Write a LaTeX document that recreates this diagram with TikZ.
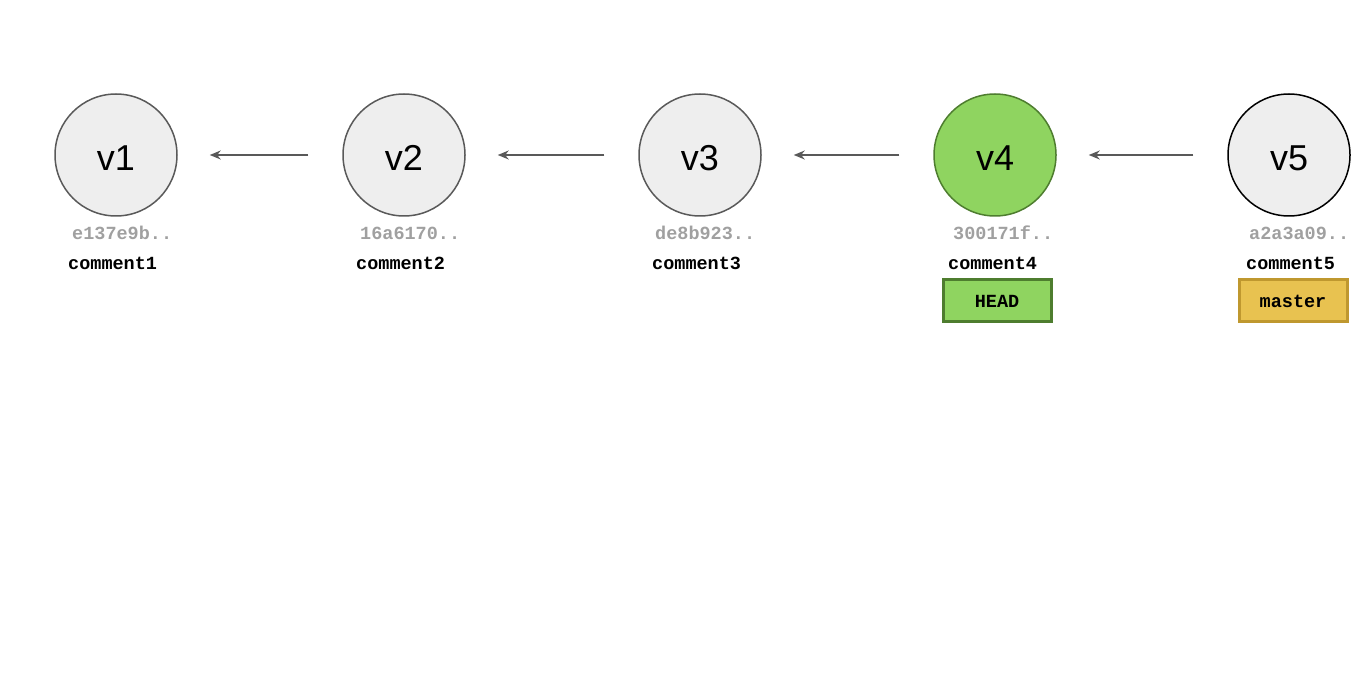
\documentclass[tikz,border=0pt]{standalone}
\usepackage{fontspec}
\setmainfont{Liberation Sans}
\newfontfamily\hashfont{Liberation Mono}
\usepackage{tikz}
\usetikzlibrary{calc}
\usetikzlibrary{arrows.meta}
\definecolor{commitfill}{HTML}{EEEEEE}
\definecolor{commitline}{HTML}{595959}
\definecolor{headfill}{HTML}{8FD460}
\definecolor{headline}{HTML}{4E7D2F}
\definecolor{masterfill}{HTML}{E8C250}
\definecolor{masterline}{HTML}{BF982F}
\definecolor{hashgray}{HTML}{A0A0A0}
\definecolor{arrowgray}{HTML}{595959}
\tikzset{
	commitstyle/.style={circle,draw=commitline,fill=commitfill,line width=1.5,minimum size=122,inner sep=0,text height=32pt,text depth=0pt,font=\fontsize{36}{40}\selectfont},
	hashstyle/.style={anchor=west,inner sep=0,text=hashgray,font=\hashfont\bfseries\fontsize{18.5}{20}\selectfont},
	msgstyle/.style={anchor=west,inner sep=0,font=\hashfont\bfseries\fontsize{18.5}{20}\selectfont},
	refstyle/.style={rectangle,line width=3,minimum width=108,minimum height=42,inner sep=0,font=\hashfont\bfseries\fontsize{18.5}{20}\selectfont},
	linkstyle/.style={-{Stealth[length=11,width=9]},draw=arrowgray,line width=1.4,shorten >=32,shorten <=34}
}
\begin{document}
\begin{tikzpicture}[x=1pt,y=-1pt]
	\useasboundingbox (0,0) rectangle (1362,692);
	\node[commitstyle] (c1) at (116,155) {v1};
	\node[commitstyle] (c2) at (404,155) {v2};
	\node[commitstyle] (c3) at (700,155) {v3};
	\node[commitstyle,draw=headline,fill=headfill] (c4) at (995,155) {v4};
	\node[commitstyle,draw=black] (c5) at (1289,155) {v5};
	\draw[linkstyle] (c2.west)--(c1.east);
	\draw[linkstyle] (c3.west)--(c2.east);
	\draw[linkstyle] (c4.west)--(c3.east);
	\draw[linkstyle] (c5.west)--(c4.east);
	\node[hashstyle] (h1) at (72,233) {e137e9b..};
	\node[hashstyle] (h2) at (360,233) {16a6170..};
	\node[hashstyle] (h3) at (655,233) {de8b923..};
	\node[hashstyle] (h4) at (953,233) {300171f..};
	\node[hashstyle] (h5) at (1249,233) {a2a3a09..};
	\node[msgstyle] (m1) at (68,263) {comment1};
	\node[msgstyle] (m2) at (356,263) {comment2};
	\node[msgstyle] (m3) at (652,263) {comment3};
	\node[msgstyle] (m4) at (948,263) {comment4};
	\node[msgstyle] (m5) at (1246,263) {comment5};
	\node[refstyle,draw=headline,fill=headfill] (head) at (997,301) {HEAD};
	\node[refstyle,draw=masterline,fill=masterfill] (master) at (1293,301) {master};
\end{tikzpicture}
\end{document}
